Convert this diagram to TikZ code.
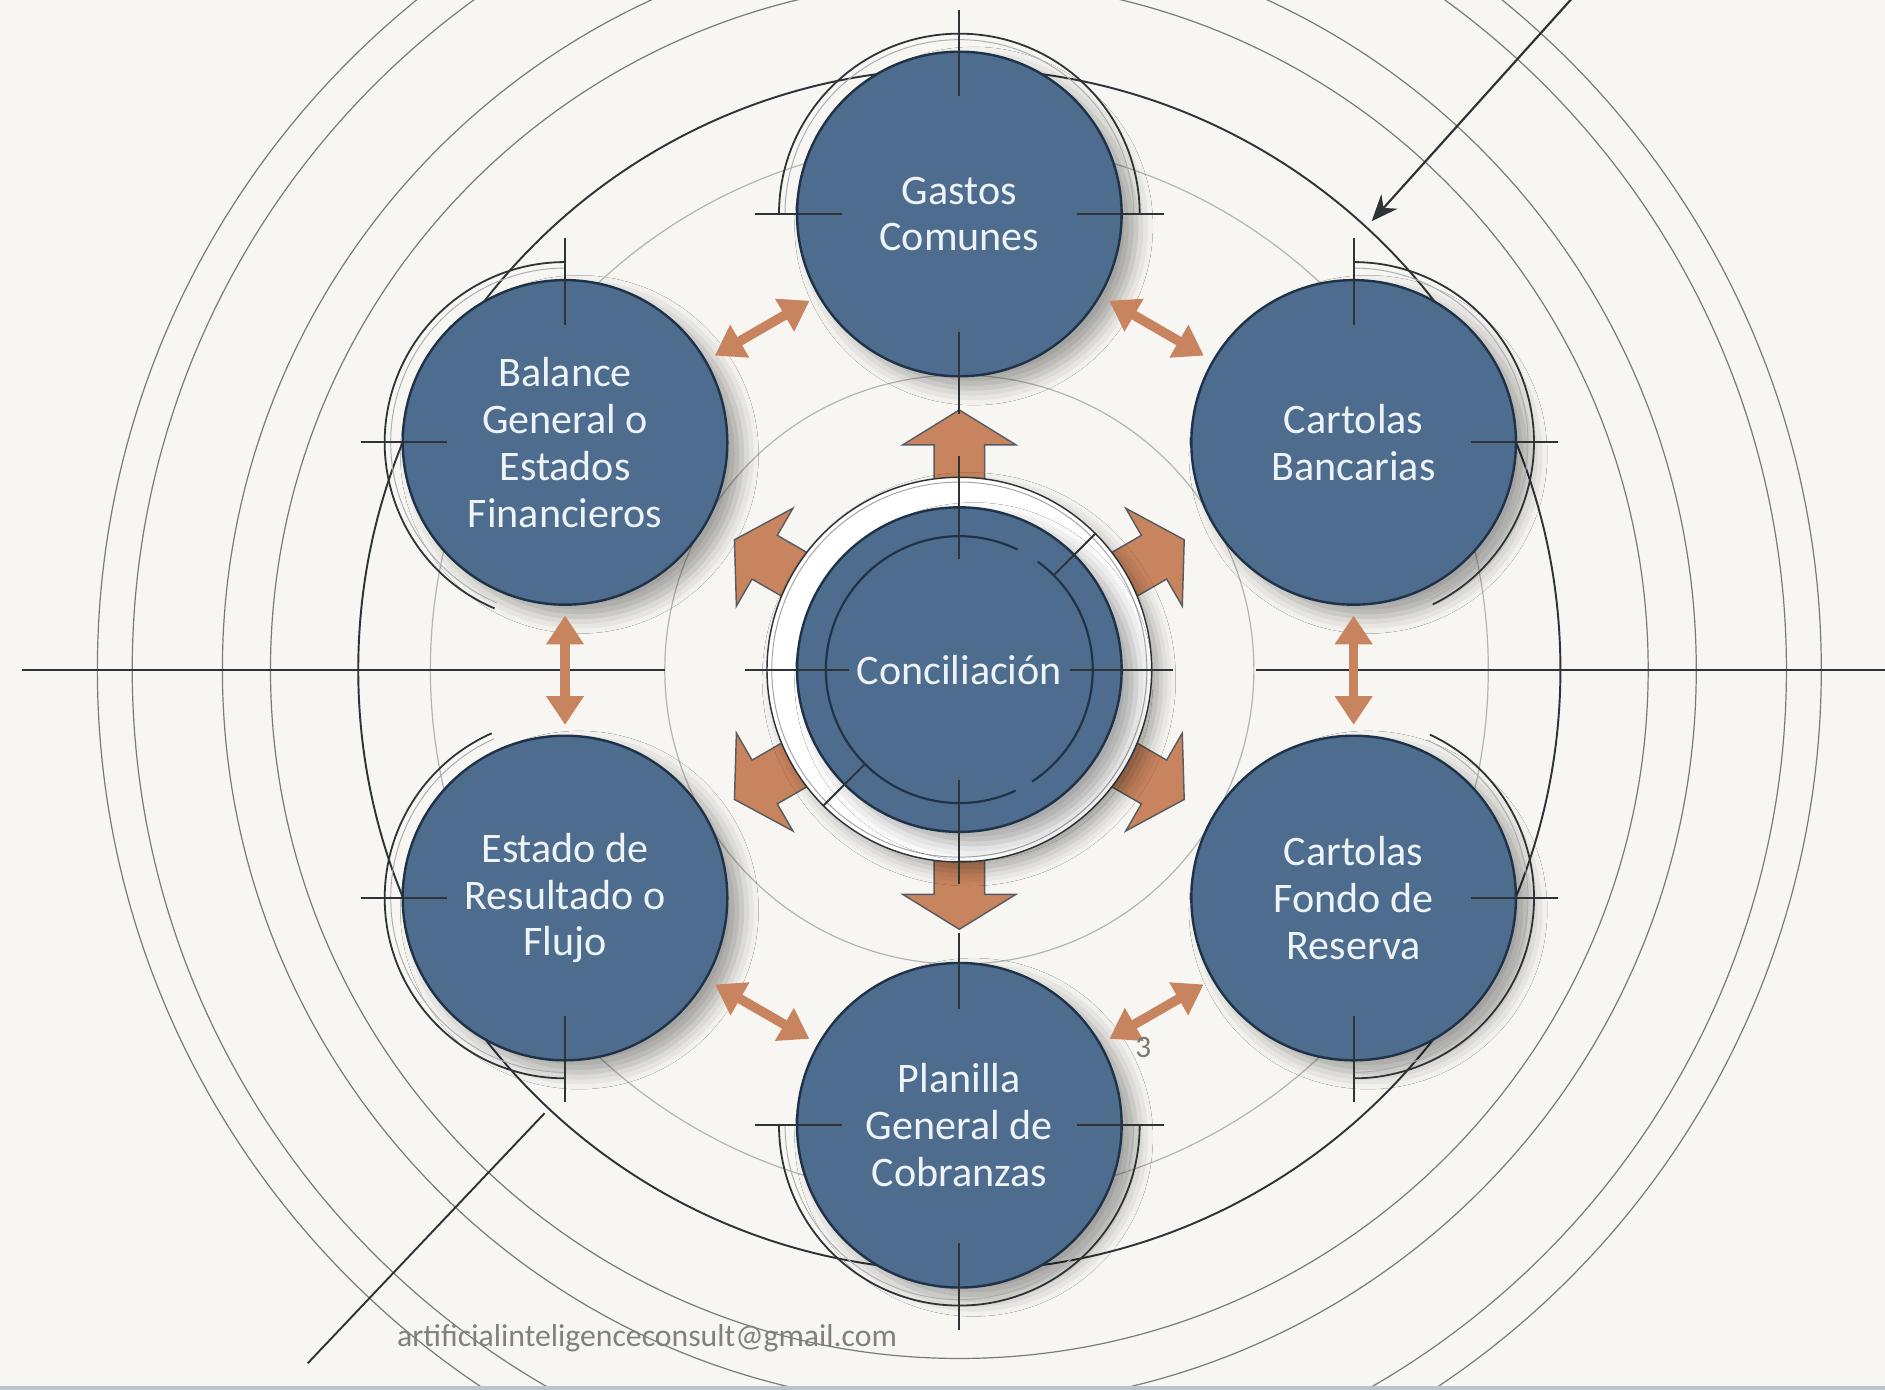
\documentclass[tikz,border=0pt]{standalone}
\usepackage{fontspec}
\setmainfont{Carlito}
\usetikzlibrary{arrows.meta,shadows.blur,calc}
\definecolor{bg}{HTML}{F7F6F2}
\definecolor{bubfill}{HTML}{4E6C8E}
\definecolor{navy}{HTML}{1F3248}
\definecolor{org}{HTML}{C8845E}
\definecolor{txt}{HTML}{EEF3F7}
\definecolor{ink}{HTML}{2E3338}
\definecolor{midg}{HTML}{7A7A7A}
\definecolor{lightg}{HTML}{B4B4B4}
\definecolor{mailg}{HTML}{808080}
\definecolor{strip}{HTML}{B8C4CE}
\begin{document}
\begin{tikzpicture}[x=0.5pt,y=-0.5pt,
  bubble/.style={circle, minimum size=135pt, inner sep=0pt, fill=bubfill, draw=navy, line width=1pt,
    text=txt, align=center, font=\fontsize{17.5}{19.5}\selectfont,
    blur shadow={shadow xshift=6pt, shadow yshift=-5pt, shadow blur radius=7pt, shadow opacity=35}},
  ringdisk/.style={circle, minimum size=160pt, inner sep=0pt, fill=white, draw=ink, line width=0.6pt,
    blur shadow={shadow xshift=4pt, shadow yshift=-4pt, shadow blur radius=6pt, shadow opacity=30}},
  tick/.style={draw=ink, line width=0.8pt},
  lightc/.style={draw=lightg, line width=0.5pt},
  midc/.style={draw=midg, line width=0.5pt},
  darkc/.style={draw=ink, line width=0.8pt},
  rimo/.style={draw=ink, line width=0.75pt},
  rimi/.style={draw=ink!40, line width=0.4pt},
  blk/.style={fill=org, draw=ink!80, line width=0.6pt, line join=miter},
  dbl/.style={draw=org, line width=4pt,
    {Triangle[width=15pt,length=12pt]}-{Triangle[width=15pt,length=12pt]},
    shorten <=4pt, shorten >=4pt}
]
\useasboundingbox (0,0) rectangle (1568,1156);
\clip (0,0) rectangle (1568,1156);
\fill[bg] (0,0) rectangle (1568,1156);
\coordinate (C) at (798,557);

% concentric guide circles
\draw[lightc] (C) circle[radius=245];
\draw[lightc] (C) circle[radius=440];
\draw[darkc] (C) circle[radius=500];
\foreach \r in {573,613,688,717} \draw[midc] (C) circle[radius=\r];

% long lines
\coordinate (hl1) at (18,557); \coordinate (hl2) at (553,557);
\coordinate (hr1) at (1045,557); \coordinate (hr2) at (1570,557);
\draw[darkc] (hl1) -- (hl2);
\draw[darkc] (hr1) -- (hr2);
\coordinate (bla) at (256,1134); \coordinate (blb) at (453,926);
\draw[ink, line width=0.8pt] (bla) -- (blb);
\coordinate (tra) at (1310,-4); \coordinate (trb) at (1141,184);
\draw[ink, line width=0.9pt, -{Stealth[length=11pt,width=9pt]}] (tra) -- (trb);

% block arrows around the centre
\foreach \a in {-90,-30,30,90,150,210}
  \draw[blk, shift={(798,557)}, rotate={0-(\a)}]
    (150,-21) -- (187,-21) -- (187,-47) -- (216,0) -- (187,47) -- (187,21) -- (150,21) -- cycle;

% centre
\node[ringdisk] (conring) at (798,557) {};
\draw[draw=ink!45, line width=0.4pt] (C) circle[radius=156];
\node[bubble] (con) at (798,557) {Conciliación};
\draw[navy, line width=0.9pt] ($(con)+(-54:111)$) arc[start angle=-54, end angle=57, radius=111];
\draw[navy, line width=0.9pt] ($(con)+(65:111)$) arc[start angle=65, end angle=296, radius=111];
\draw[tick] ($(con)+(-45:111)$) -- ($(con)+(-45:160)$);
\draw[tick] ($(con)+(135:111)$) -- ($(con)+(135:160)$);
\foreach \a in {-90,180,0,90}
  \draw[tick] ($(con)+(\a:92)$) -- ($(con)+(\a:178)$);

% outer bubbles
\node[bubble] (gas) at (798,178) {Gastos\\Comunes};
\node[bubble] (ban) at (1126,368) {Cartolas\\Bancarias};
\node[bubble] (fon) at (1126,747) {Cartolas\\Fondo de\\Reserva};
\node[bubble] (pla) at (798,936) {Planilla\\General de\\Cobranzas};
\node[bubble] (est) at (470,747) {Estado de\\Resultado o\\Flujo};
\node[bubble] (bal) at (470,368) {Balance\\General o\\Estados\\Financieros};

% rims
\foreach \n/\s/\e in {gas/180/360, pla/0/180, bal/113/270, ban/-90/64, fon/-65/90, est/90/246} {
  \draw[rimo] ($(\n)+(\s:150)$) arc[start angle=\s, end angle=\e, radius=150];
  \draw[rimi] ($(\n)+(\s:145)$) arc[start angle=\s, end angle=\e, radius=145];
}

% ticks
\foreach \n/\a in {gas/-90, gas/180, gas/0, bal/-90, bal/180, ban/-90, ban/0,
                   est/180, est/90, fon/0, fon/90, pla/180, pla/0, pla/90}
  \draw[tick] ($(\n)+(\a:98)$) -- ($(\n)+(\a:170)$);
\draw[tick] ($(gas)+(90:98)$) -- ($(gas)+(90:166)$);
\draw[tick] ($(pla)+(-90:97)$) -- ($(pla)+(-90:160)$);

% double arrows
\draw[dbl] (bal) -- (gas);
\draw[dbl] (gas) -- (ban);
\draw[dbl] (ban) -- (fon);
\draw[dbl] (fon) -- (pla);
\draw[dbl] (pla) -- (est);
\draw[dbl] (est) -- (bal);

% texts
\node[font=\fontsize{13}{13}\selectfont, text=midg] (three) at (951,871) {3};
\node[anchor=base west, inner sep=0pt, font=\fontsize{13.2}{15}\selectfont, text=mailg] (mail) at (330,1120) {artificialinteligenceconsult@gmail.com};

\fill[strip] (0,1153) rectangle (1568,1156);
\end{tikzpicture}
\end{document}
